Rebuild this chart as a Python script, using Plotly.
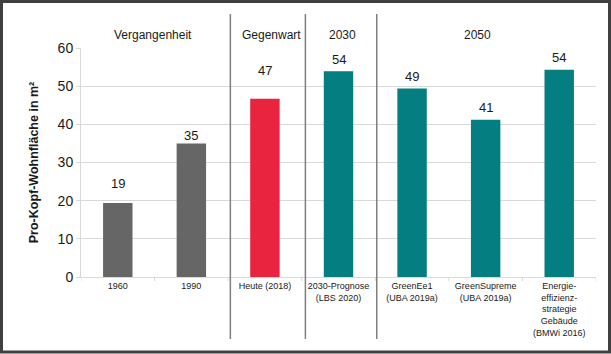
import plotly.graph_objects as go

categories = ["1960", "1990", "Heute (2018)", "2030-Prognose<br>(LBS 2020)",
              "GreenEe1<br>(UBA 2019a)", "GreenSupreme<br>(UBA 2019a)",
              "Energie-<br>effizienz-<br>strategie<br>Gebäude<br>(BMWi 2016)"]
values = [19.4, 35.0, 46.7, 53.9, 49.4, 41.2, 54.3]
value_labels = ["19", "35", "47", "54", "49", "41", "54"]
bar_colors = ["#666666", "#666666", "#E8243F", "#047E80", "#047E80", "#047E80", "#047E80"]
label_shift_px = [19, 8, 28, 12, 12, 12, 12]

group_labels = ["Vergangenheit", "Gegenwart", "2030", "2050"]
group_x = [0.48, 2.09, 3.05, 4.89]
separator_x = [1.53, 2.55, 3.52]

W, H = 611, 354
L, R, T, B = 81, 15, 48, 77
pw, ph = W - L - R, H - T - B

def px_x(px):
    return (px - L) / pw

def px_y(py):
    return (H - B - py) / ph

fig = go.Figure()
fig.add_trace(go.Bar(x=list(range(len(categories))), y=values, marker_color=bar_colors,
                     marker_line_width=0, width=0.4, hoverinfo="skip"))

for i, (v, lab, s) in enumerate(zip(values, value_labels, label_shift_px)):
    fig.add_annotation(x=i, y=v, text=lab, showarrow=False, yanchor="middle", yshift=s,
                       font=dict(size=13, color="#1a1a1a"))

for gx, gl in zip(group_x, group_labels):
    fig.add_annotation(x=gx, y=px_y(26), yref="paper", text=gl, showarrow=False,
                       font=dict(size=12, color="#1a1a1a"))

for sx in separator_x:
    fig.add_shape(type="line", x0=sx, x1=sx, xref="x", yref="paper",
                  y0=px_y(14), y1=px_y(339), line=dict(color="#7f7f7f", width=1.5))

# outer frame
fig.add_shape(type="rect", xref="paper", yref="paper",
              x0=px_x(1.5), x1=px_x(609.5), y0=px_y(1.5), y1=px_y(352),
              line=dict(color="#404040", width=3), fillcolor="rgba(0,0,0,0)")

fig.update_layout(
    width=W, height=H, margin=dict(l=L, r=R, t=T, b=B),
    paper_bgcolor="white", plot_bgcolor="white", showlegend=False,
    font=dict(family="Liberation Sans, Arial, sans-serif", color="#1a1a1a"),
)
fig.update_xaxes(range=[-0.5, 6.5], tickmode="array", tickvals=list(range(len(categories))),
                 ticktext=categories, tickfont=dict(size=9), showgrid=False,
                 showline=True, linecolor="#d9d9d9", linewidth=1,
                 ticks="", zeroline=False)
# boundary ticks on x axis
for b in [0.5, 1.5, 2.5, 3.5, 4.5, 5.5, 6.5, -0.5]:
    fig.add_shape(type="line", x0=b, x1=b, xref="x", yref="paper", y0=0, y1=px_y(281),
                  line=dict(color="#d9d9d9", width=1))
fig.update_yaxes(range=[0, 60], dtick=10, tickfont=dict(size=14), showgrid=True,
                 gridcolor="#d9d9d9", gridwidth=1, showline=True, linecolor="#d9d9d9",
                 ticks="outside", ticklen=4, tickcolor="#d9d9d9", zeroline=False,
                 title=dict(text="<b>Pro-Kopf-Wohnfläche in m²</b>", font=dict(size=12.5),
                            standoff=16))

fig.write_html("out.html")
